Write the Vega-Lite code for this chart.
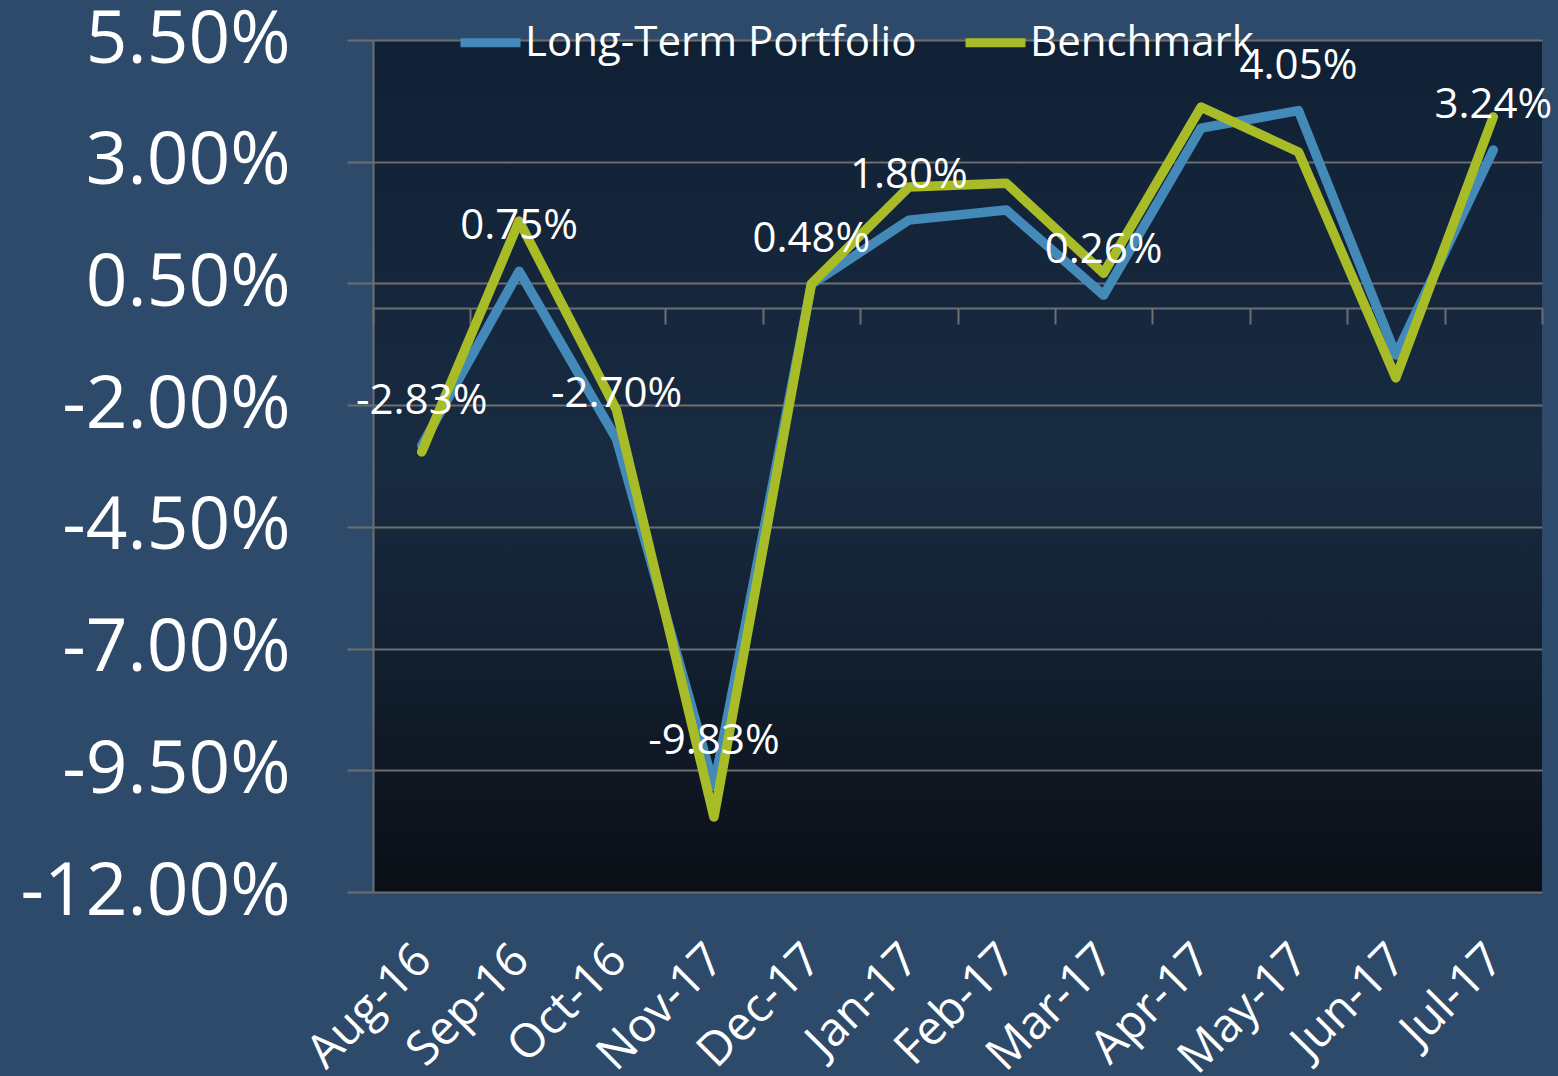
{
  "$schema": "https://vega.github.io/schema/vega-lite/v6.json",
  "width": 1169,
  "height": 852,
  "autosize": {"type": "none"},
  "padding": {"left": 373, "top": 40, "right": 16, "bottom": 184},
  "background": "#2d4a6a",
  "config": {
    "locale": {"number": {"decimal": ".", "thousands": ",", "grouping": [3], "currency": ["$", ""], "minus": "-"}},
    "font": "Open Sans",
    "view": {
      "stroke": null,
      "fill": {
        "gradient": "linear", "x1": 0, "y1": 0, "x2": 0, "y2": 1,
        "stops": [
          {"offset": 0, "color": "rgba(4,14,30,0.7)"},
          {"offset": 0.5, "color": "rgba(8,18,32,0.55)"},
          {"offset": 1, "color": "rgba(10,13,19,0.97)"}
        ]
      }
    }
  },
  "data": {
    "values": [
      {"month": "Aug-16", "series": "Long-Term Portfolio", "value": -0.0283},
      {"month": "Sep-16", "series": "Long-Term Portfolio", "value": 0.0075},
      {"month": "Oct-16", "series": "Long-Term Portfolio", "value": -0.027},
      {"month": "Nov-17", "series": "Long-Term Portfolio", "value": -0.0983},
      {"month": "Dec-17", "series": "Long-Term Portfolio", "value": 0.0048},
      {"month": "Jan-17", "series": "Long-Term Portfolio", "value": 0.018},
      {"month": "Feb-17", "series": "Long-Term Portfolio", "value": 0.0201},
      {"month": "Mar-17", "series": "Long-Term Portfolio", "value": 0.0026},
      {"month": "Apr-17", "series": "Long-Term Portfolio", "value": 0.0369},
      {"month": "May-17", "series": "Long-Term Portfolio", "value": 0.0405},
      {"month": "Jun-17", "series": "Long-Term Portfolio", "value": -0.0097},
      {"month": "Jul-17", "series": "Long-Term Portfolio", "value": 0.0324},
      {"month": "Aug-16", "series": "Benchmark", "value": -0.0296},
      {"month": "Sep-16", "series": "Benchmark", "value": 0.0178},
      {"month": "Oct-16", "series": "Benchmark", "value": -0.021},
      {"month": "Nov-17", "series": "Benchmark", "value": -0.1046},
      {"month": "Dec-17", "series": "Benchmark", "value": 0.0049},
      {"month": "Jan-17", "series": "Benchmark", "value": 0.0248},
      {"month": "Feb-17", "series": "Benchmark", "value": 0.0256},
      {"month": "Mar-17", "series": "Benchmark", "value": 0.0071},
      {"month": "Apr-17", "series": "Benchmark", "value": 0.0412},
      {"month": "May-17", "series": "Benchmark", "value": 0.032},
      {"month": "Jun-17", "series": "Benchmark", "value": -0.0144},
      {"month": "Jul-17", "series": "Benchmark", "value": 0.0392}
    ]
  },
  "layer": [
    {
      "mark": {"type": "line", "strokeWidth": 9.5, "strokeCap": "round", "strokeJoin": "round"},
      "encoding": {
        "x": {
          "field": "month", "type": "ordinal", "bandPosition": 0.5,
          "scale": {"type": "band", "paddingInner": 0, "paddingOuter": 0,
            "domain": ["Aug-16", "Sep-16", "Oct-16", "Nov-17", "Dec-17", "Jan-17", "Feb-17", "Mar-17", "Apr-17", "May-17", "Jun-17", "Jul-17"]},
          "axis": {
            "title": null, "offset": -584, "grid": false,
            "domainColor": "#6e6e6e", "domainWidth": 2,
            "tickColor": "#6e6e6e", "tickWidth": 2, "tickSize": 16, "tickBand": "extent",
            "labelAngle": -45, "labelAlign": "right", "labelBaseline": "middle",
            "labelFontSize": 47, "labelColor": "white", "labelFont": "Open Sans",
            "labelPadding": 628, "labelOffset": 2, "labelOverlap": false, "labelLimit": 0
          }
        },
        "y": {
          "field": "value", "type": "quantitative",
          "scale": {"domain": [-0.12, 0.055], "nice": false, "zero": false},
          "axis": {
            "title": null, "values": [0.055, 0.03, 0.005, -0.02, -0.045, -0.07, -0.095, -0.12],
            "format": ".2%", "grid": true,
            "gridColor": "#6e6e6e", "gridWidth": 2,
            "domainColor": "#6e6e6e", "domainWidth": 2,
            "tickColor": "#6e6e6e", "tickWidth": 2, "tickSize": 26,
            "labelFontSize": 73, "labelColor": "white", "labelFont": "Open Sans",
            "labelPadding": 57, "labelOverlap": false, "labelLimit": 0
          }
        },
        "color": {
          "field": "series", "type": "nominal",
          "scale": {"domain": ["Long-Term Portfolio", "Benchmark"], "range": ["#438ab9", "#a8bc28"]},
          "legend": {
            "orient": "none", "legendX": 83, "legendY": -32, "direction": "horizontal",
            "title": null, "labelColor": "white", "labelFontSize": 42, "labelFont": "Open Sans",
            "symbolType": "stroke", "symbolStrokeWidth": 9, "symbolSize": 3600,
            "columnPadding": 30, "labelOffset": 0, "padding": 0, "labelLimit": 0
          }
        }
      }
    },
    {
      "transform": [
        {"filter": "datum.series == 'Long-Term Portfolio' && indexof(['Feb-17','Apr-17','Jun-17'], datum.month) < 0"}
      ],
      "mark": {"type": "text", "fontSize": 42, "color": "white", "dy": -45, "align": "center", "baseline": "middle", "font": "Open Sans"},
      "encoding": {
        "x": {"field": "month", "type": "ordinal", "bandPosition": 0.5},
        "y": {"field": "value", "type": "quantitative"},
        "text": {"field": "value", "type": "quantitative", "format": ".2%"}
      }
    }
  ]
}
